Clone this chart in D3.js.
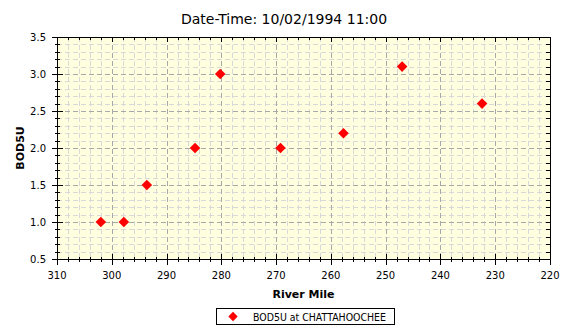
<!DOCTYPE html>
<html>
<head>
<meta charset="utf-8">
<script src="https://cdn.jsdelivr.net/npm/d3@7"></script>
<style>
  html, body { margin: 0; padding: 0; background: #fff; }
  svg { display: block; }
  text { font-family: "DejaVu Sans", Verdana, sans-serif; fill: #000; }
</style>
</head>
<body>
<svg id="chart" width="570" height="335"></svg>
<script>
// River mile / BOD5U observations
const riverMile = [302.0, 297.8, 293.6, 284.8, 280.2, 269.2, 257.7, 247.0, 232.4];
const bod5u     = [1.0,   1.0,   1.5,   2.0,   3.0,   2.0,   2.2,   3.1,   2.6];
const xTicks = [310, 300, 290, 280, 270, 260, 250, 240, 230, 220];
const yTicks = [0.5, 1.0, 1.5, 2.0, 2.5, 3.0, 3.5];
const titleText = "Date-Time: 10/02/1994 11:00";
const xTitle = "River Mile";
const yTitle = "BOD5U";
const seriesName = "BOD5U at CHATTAHOOCHEE";

const svg = d3.select("#chart");
const plotL = 57, plotR = 550, plotT = 37, plotB = 259;

const x = d3.scaleLinear().domain([310, 220]).range([plotL, plotR]);
const y = d3.scaleLinear().domain([0.5, 3.5]).range([plotB, plotT]);

const xMinor = d3.range(310, 219, -2).filter(v => !xTicks.includes(v));
const yMinor = d3.range(5, 36).map(v => v / 10).filter(v => !yTicks.includes(v));

// plot background
svg.append("rect")
  .attr("x", plotL).attr("y", plotT)
  .attr("width", plotR - plotL).attr("height", plotB - plotT)
  .attr("fill", "#ffffe0");

const px = v => Math.round(x(v)) + 0.5;
const py = v => Math.round(y(v)) + 0.5;

const grid = svg.append("g").attr("shape-rendering", "crispEdges");
// minor grid
grid.selectAll("line.vmin").data(xMinor).join("line")
  .attr("x1", px).attr("x2", px)
  .attr("y1", plotT).attr("y2", plotB)
  .attr("stroke", "#d8d8d8").attr("stroke-dasharray", "5,3");
grid.selectAll("line.hmin").data(yMinor).join("line")
  .attr("y1", py).attr("y2", py)
  .attr("x1", plotL).attr("x2", plotR)
  .attr("stroke", "#d8d8d8").attr("stroke-dasharray", "5,3");
// major grid
grid.selectAll("line.vmaj").data(xTicks.slice(1, -1)).join("line")
  .attr("x1", px).attr("x2", px)
  .attr("y1", plotT).attr("y2", plotB)
  .attr("stroke", "#a8a8a8").attr("stroke-dasharray", "5,3");
grid.selectAll("line.hmaj").data(yTicks.slice(1, -1)).join("line")
  .attr("y1", py).attr("y2", py)
  .attr("x1", plotL).attr("x2", plotR)
  .attr("stroke", "#a8a8a8").attr("stroke-dasharray", "5,3");

// frame with ticks
const frame = svg.append("g").attr("shape-rendering", "crispEdges").attr("stroke", "#000");
frame.append("line").attr("x1", plotL).attr("x2", plotR + 1).attr("y1", plotB + 0.5).attr("y2", plotB + 0.5);
frame.append("line").attr("x1", plotL).attr("x2", plotR + 1).attr("y1", plotT + 0.5).attr("y2", plotT + 0.5);
frame.append("line").attr("y1", plotT).attr("y2", plotB + 1).attr("x1", plotL + 0.5).attr("x2", plotL + 0.5);
frame.append("line").attr("y1", plotT).attr("y2", plotB + 1).attr("x1", plotR + 0.5).attr("x2", plotR + 0.5);

// bottom axis ticks (cross the axis)
frame.selectAll("line.bmaj").data(xTicks).join("line")
  .attr("x1", px).attr("x2", px).attr("y1", plotB - 5).attr("y2", plotB + 6);
frame.selectAll("line.bmin").data(xMinor).join("line")
  .attr("x1", px).attr("x2", px).attr("y1", plotB - 2).attr("y2", plotB + 3);
// top ticks (inward)
frame.selectAll("line.tmaj").data(xTicks).join("line")
  .attr("x1", px).attr("x2", px).attr("y1", plotT).attr("y2", plotT + 5);
frame.selectAll("line.tmin").data(xMinor).join("line")
  .attr("x1", px).attr("x2", px).attr("y1", plotT).attr("y2", plotT + 3);
// left axis ticks (cross the axis)
frame.selectAll("line.lmaj").data(yTicks).join("line")
  .attr("y1", py).attr("y2", py).attr("x1", plotL - 5).attr("x2", plotL + 6);
frame.selectAll("line.lmin").data(yMinor).join("line")
  .attr("y1", py).attr("y2", py).attr("x1", plotL - 2).attr("x2", plotL + 3);
// right ticks (inward)
frame.selectAll("line.rmaj").data(yTicks).join("line")
  .attr("y1", py).attr("y2", py).attr("x1", plotR - 4).attr("x2", plotR + 1);
frame.selectAll("line.rmin").data(yMinor).join("line")
  .attr("y1", py).attr("y2", py).attr("x1", plotR - 4).attr("x2", plotR + 1);

// tick labels
svg.append("g").selectAll("text").data(xTicks).join("text")
  .attr("x", d => x(d)).attr("y", plotB + 20)
  .attr("text-anchor", "middle").attr("font-size", 10)
  .text(d => d);
svg.append("g").selectAll("text").data(yTicks).join("text")
  .attr("x", plotL - 11).attr("y", d => y(d) + 4)
  .attr("text-anchor", "end").attr("font-size", 10)
  .text(d => d.toFixed(1));

// titles
svg.append("text")
  .attr("x", 284).attr("y", 24)
  .attr("text-anchor", "middle").attr("font-size", 14)
  .text(titleText);
svg.append("text")
  .attr("x", (plotL + plotR) / 2).attr("y", 298)
  .attr("text-anchor", "middle").attr("font-size", 11).attr("font-weight", "bold")
  .text(xTitle);
svg.append("text")
  .attr("transform", `translate(24,${(plotT + plotB) / 2}) rotate(-90)`)
  .attr("text-anchor", "middle").attr("font-size", 11).attr("font-weight", "bold")
  .text(yTitle);

// markers
const diamond = d3.symbol().type(d3.symbolSquare).size(56);
svg.append("g").selectAll("path").data(riverMile.map((m, i) => [m, bod5u[i]])).join("path")
  .attr("d", diamond)
  .attr("transform", d => `translate(${x(d[0])},${y(d[1])}) rotate(45)`)
  .attr("fill", "#ff0000");

// legend
const lg = svg.append("g");
lg.append("rect")
  .attr("x", 216.5).attr("y", 308.5).attr("width", 178).attr("height", 16)
  .attr("fill", "#fff").attr("stroke", "#000").attr("shape-rendering", "crispEdges");
lg.append("path")
  .attr("d", d3.symbol().type(d3.symbolSquare).size(44))
  .attr("transform", "translate(233,316.5) rotate(45)")
  .attr("fill", "#ff0000");
lg.append("text")
  .attr("x", 253).attr("y", 320.5).attr("font-size", 10)
  .attr("textLength", 133).attr("lengthAdjust", "spacingAndGlyphs")
  .text(seriesName);
</script>
</body>
</html>
